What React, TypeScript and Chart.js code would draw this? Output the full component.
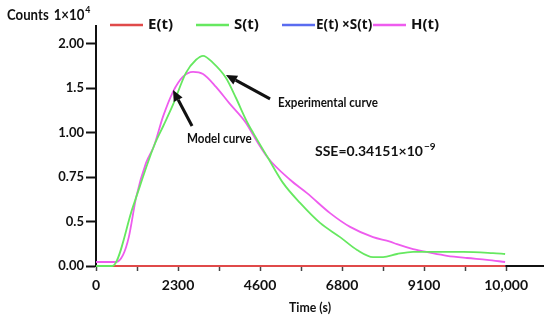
import React, { useEffect, useRef } from "react";
import { Chart, registerables } from "chart.js";

Chart.register(...registerables);

// Axis tick labels (the original axes are evenly spaced but labelled non-linearly)
const xTickLabels = ["0", "2300", "4600", "6800", "9100", "10,000"];
const yTickLabels = ["0.00", "0.5", "0.75", "1.00", "1.5", "2.00"];

// Series, x in tick-index units, y in tick-index units
const sX = [0, 0.2, 0.45, 0.707, 0.82, 0.939, 1.098, 1.22, 1.305, 1.427, 1.585, 1.707, 1.829, 1.915, 2.098, 2.28, 2.488, 2.732, 2.976, 3.183, 3.378, 3.5, 3.67, 3.866, 4.073, 4.476, 4.841, 4.988];
const sY = [0, 0, 1.33, 2.7, 3.15, 3.63, 4.35, 4.64, 4.73, 4.57, 4.23, 3.78, 3.29, 3.0, 2.43, 1.87, 1.42, 0.97, 0.65, 0.36, 0.2, 0.2, 0.27, 0.32, 0.32, 0.32, 0.29, 0.27];

const hX = [0, 0.244, 0.33, 0.4, 0.49, 0.61, 0.707, 0.817, 0.939, 1.061, 1.183, 1.305, 1.463, 1.622, 1.829, 1.915, 2.098, 2.366, 2.573, 2.854, 3.098, 3.378, 3.585, 3.67, 3.866, 4.073, 4.28, 4.524, 4.768, 4.988];
const hY = [0.09, 0.09, 0.25, 0.65, 1.55, 2.32, 2.7, 3.36, 3.92, 4.26, 4.37, 4.32, 4.03, 3.67, 3.22, 2.95, 2.43, 1.94, 1.64, 1.19, 0.88, 0.65, 0.55, 0.49, 0.38, 0.3, 0.23, 0.18, 0.14, 0.09];

const eX = [0, 4.99];
const eY = [0, 0];
const esX = [0, 4.99];
const esY = [0, 0];

const seriesNames = ["E(t)", "S(t)", "E(t) \u00d7S(t)", "H(t)"];
const seriesColors = ["#e04a4a", "#66e860", "#5a6cf0", "#ee5cee"];

const pts = (xs: number[], ys: number[]) => xs.map((x, i) => ({ x, y: ys[i] }));

function drawText(ctx: CanvasRenderingContext2D, s: string, x: number, y: number, font: string, sx = 1, align: CanvasTextAlign = "left") {
  ctx.save();
  ctx.font = font;
  ctx.textBaseline = "middle";
  ctx.textAlign = align;
  ctx.translate(x, y);
  ctx.scale(sx, 1);
  ctx.fillText(s, 0, 0);
  const w = ctx.measureText(s).width * sx;
  ctx.restore();
  return w;
}

function drawArrow(ctx: CanvasRenderingContext2D, x1: number, y1: number, x2: number, y2: number) {
  const ang = Math.atan2(y2 - y1, x2 - x1);
  const hl = 11, hw = 5;
  const bx = x2 - hl * Math.cos(ang), by = y2 - hl * Math.sin(ang);
  ctx.save();
  ctx.strokeStyle = "#111";
  ctx.fillStyle = "#111";
  ctx.lineWidth = 3;
  ctx.beginPath();
  ctx.moveTo(x1, y1);
  ctx.lineTo(bx, by);
  ctx.stroke();
  ctx.beginPath();
  ctx.moveTo(x2, y2);
  ctx.lineTo(bx + hw * Math.sin(ang), by - hw * Math.cos(ang));
  ctx.lineTo(bx - hw * Math.sin(ang), by + hw * Math.cos(ang));
  ctx.closePath();
  ctx.fill();
  ctx.restore();
}

const decorPlugin = {
  id: "decor",
  afterDraw(chart: any) {
    const ctx: CanvasRenderingContext2D = chart.ctx;
    const xs = chart.scales.x, ys = chart.scales.y;
    const px = (v: number) => xs.getPixelForValue(v);
    const py = (v: number) => ys.getPixelForValue(v);
    ctx.save();
    ctx.fillStyle = "#111";

    // y-axis title
    const w1 = drawText(ctx, "Counts", 7, 15, "bold 15px Lato", 0.88);
    const w2 = drawText(ctx, "1\u00d710", 7 + w1 + 5, 15, "bold 15px Lato", 0.88);
    drawText(ctx, "4", 7 + w1 + 5 + w2 + 1, 10, "bold 10px Lato", 0.88);

    // legend
    const legendX = [110, 196, 282, 373];
    const legendY = 25;
    seriesNames.forEach((name, i) => {
      ctx.save();
      ctx.strokeStyle = seriesColors[i];
      ctx.lineWidth = 2.5;
      ctx.beginPath();
      ctx.moveTo(legendX[i], legendY);
      ctx.lineTo(legendX[i] + 33, legendY);
      ctx.stroke();
      ctx.restore();
      const gap = i === 2 ? 1 : 5;
      drawText(ctx, name, legendX[i] + 33 + gap, legendY, "bold 15px 'Open Sans'", i === 2 ? 0.9 : 1);
    });

    // x-axis title
    drawText(ctx, "Time (s)", 310, 307, "bold 14px Lato", 0.88, "center");

    // annotations
    drawArrow(ctx, px(2.122), py(3.76), px(1.585), py(4.3));
    drawArrow(ctx, px(1.171), py(3.15), px(0.939), py(3.96));
    drawText(ctx, "Experimental curve", px(2.22), py(3.67), "bold 14px Lato", 0.83);
    drawText(ctx, "Model curve", px(1.11), py(2.86), "bold 14px Lato", 0.83);
    const sw = drawText(ctx, "SSE=0.34151\u00d710", px(2.67), py(2.57), "bold 14px Lato", 1);
    drawText(ctx, "\u22129", px(2.67) + sw + 1, py(2.57) - 5, "bold 10px Lato", 1);
    ctx.restore();
  },
};

export default function App() {
  const ref = useRef<HTMLCanvasElement | null>(null);
  useEffect(() => {
    if (!ref.current) return;
    const mk = (i: number, data: any[], order: number, width = 1.8) => ({
      label: seriesNames[i],
      data,
      borderColor: seriesColors[i],
      backgroundColor: seriesColors[i],
      borderWidth: width,
      pointRadius: 0,
      tension: 0.4,
      cubicInterpolationMode: "monotone" as const,
      clip: false as any,
      order,
    });
    const chart = new Chart(ref.current, {
      type: "line",
      data: {
        datasets: [
          mk(0, pts(eX, eY), 4, 2),
          mk(2, pts(esX, esY), 5, 2),
          mk(1, pts(sX, sY), 1),
          mk(3, pts(hX, hY), 2),
        ],
      },
      options: {
        animation: false,
        responsive: false,
        parsing: false as any,
        layout: { padding: { top: 26, right: 7, left: 0, bottom: 0 } },
        plugins: { legend: { display: false }, tooltip: { enabled: false } },
        scales: {
          x: {
            type: "linear",
            min: 0,
            max: 5.45,
            afterBuildTicks: (s: any) => {
              s.ticks = [0, 0.5, 1, 1.5, 2, 2.5, 3, 3.5, 4, 4.5, 5].map((v) => ({ value: v }));
            },
            afterFit: (s: any) => {
              s.height = 56;
            },
            ticks: {
              autoSkip: false,
              maxRotation: 0,
              padding: 6,
              color: "#111",
              font: { family: "Lato", weight: "bold", size: 14 },
              callback: (v: any) => (Number.isInteger(v) ? xTickLabels[v] : ""),
            },
            grid: { drawOnChartArea: false, drawTicks: true, tickLength: 5, tickColor: "#444", tickWidth: 1.5 },
            border: { display: true, color: "#111", width: 2 },
          },
          y: {
            type: "linear",
            min: 0,
            max: 5.4,
            afterBuildTicks: (s: any) => {
              s.ticks = [0, 1, 2, 3, 4, 5].map((v) => ({ value: v }));
            },
            afterFit: (s: any) => {
              s.width = 96;
            },
            ticks: {
              padding: 2,
              color: "#111",
              font: { family: "Lato", weight: "bold", size: 13 },
              callback: (v: any) => yTickLabels[v] ?? "",
            },
            grid: { drawOnChartArea: false, drawTicks: true, tickLength: 10, tickColor: "#111", tickWidth: 2 },
            border: { display: true, color: "#111", width: 2 },
          },
        },
      },
      plugins: [decorPlugin],
    });
    return () => chart.destroy();
  }, []);
  return (
    <div style={{ position: "fixed", left: 0, top: 0, width: 550, height: 322, background: "#fff" }}>
      <canvas ref={ref} width={550} height={322} style={{ width: 550, height: 322, display: "block" }} />
    </div>
  );
}
